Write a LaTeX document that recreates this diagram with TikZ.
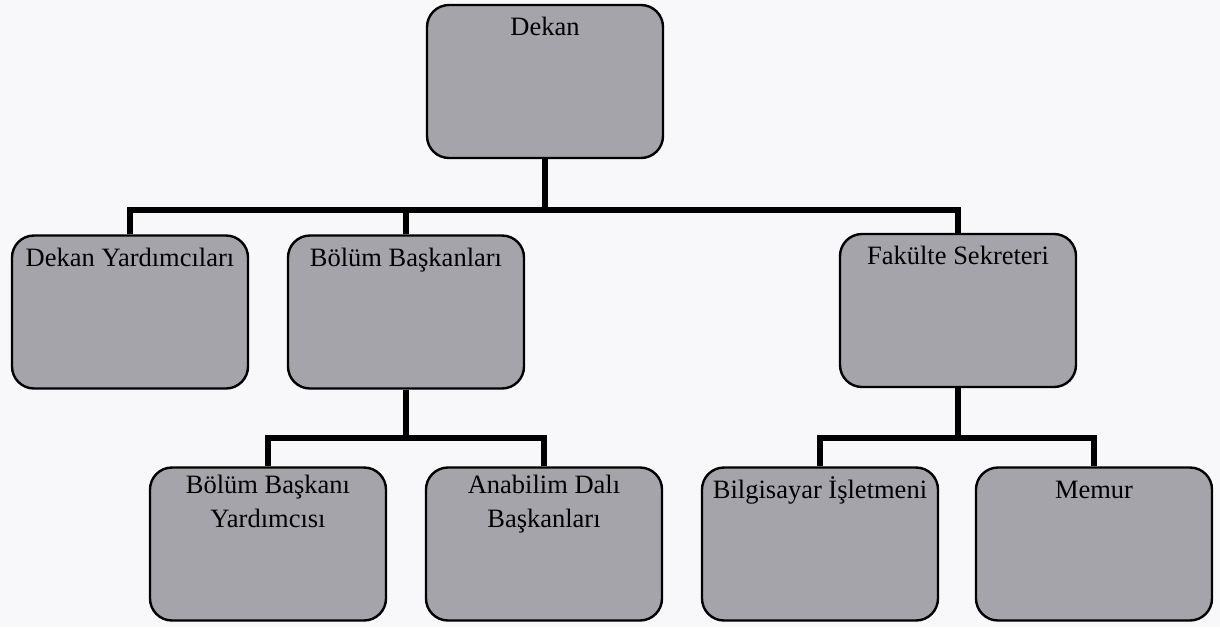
\documentclass[tikz,border=0pt]{standalone}
\usepackage{fontspec}
\setmainfont{Liberation Serif}
\definecolor{boxgray}{RGB}{164,164,170}
\definecolor{bgpaper}{RGB}{248,248,250}
\tikzset{
  x=1pt,y=1pt,
  orgbox/.style={draw=black, line width=2.4pt, fill=boxgray, rounded corners=22pt,
    minimum width=236pt, minimum height=153pt, inner sep=0pt},
  lbl/.style={anchor=base, inner sep=0pt, font=\fontsize{26.5}{34}\selectfont, align=center},
  conn/.style={draw=black, line width=5.5pt, line join=miter}
}
\begin{document}
\begin{tikzpicture}
\fill[bgpaper] (0,0) rectangle (1220,-627);
\useasboundingbox (0,0) rectangle (1220,-627);
% boxes
\node[orgbox] (dekan) at (545,-81.5) {};
\node[orgbox] (dy) at (130,-312) {};
\node[orgbox] (bb) at (406,-312) {};
\node[orgbox] (fs) at (958,-310.5) {};
\node[orgbox] (bby) at (268,-544) {};
\node[orgbox] (adb) at (544,-544) {};
\node[orgbox] (bi) at (820,-544) {};
\node[orgbox] (me) at (1094,-544) {};
% bus coordinates
\coordinate (bus1) at (0,-210);
\coordinate (bus2) at (0,-438);
% connectors
\draw[conn] (dekan.south) -- (dekan.south |- bus1);
\draw[conn] (dy.north) -- (dy.north |- bus1) -| (fs.north);
\draw[conn] (bb.north) -- (bb.north |- bus1);
\draw[conn] (bb.south) -- (bb.south |- bus2);
\draw[conn] (bby.north) -- (bby.north |- bus2) -| (adb.north);
\draw[conn] (fs.south) -- (fs.south |- bus2);
\draw[conn] (bi.north) -- (bi.north |- bus2) -| (me.north);
% labels
\node[lbl] (tdekan) at ([yshift=-32pt]dekan.north) {Dekan};
\node[lbl] (tdy) at ([yshift=-32pt]dy.north) {Dekan Yardımcıları};
\node[lbl] (tbb) at ([yshift=-32pt]bb.north) {Bölüm Başkanları};
\node[lbl] (tfs) at ([yshift=-32pt]fs.north) {Fakülte Sekreteri};
\node[lbl, anchor=north] (tbby) at ([yshift=-9pt]bby.north) {Bölüm Başkanı\\Yardımcısı};
\node[lbl, anchor=north] (tadb) at ([yshift=-9pt]adb.north) {Anabilim Dalı\\Başkanları};
\node[lbl] (tbi) at ([yshift=-32pt]bi.north) {Bilgisayar İşletmeni};
\node[lbl] (tme) at ([yshift=-32pt]me.north) {Memur};
\end{tikzpicture}
\end{document}
